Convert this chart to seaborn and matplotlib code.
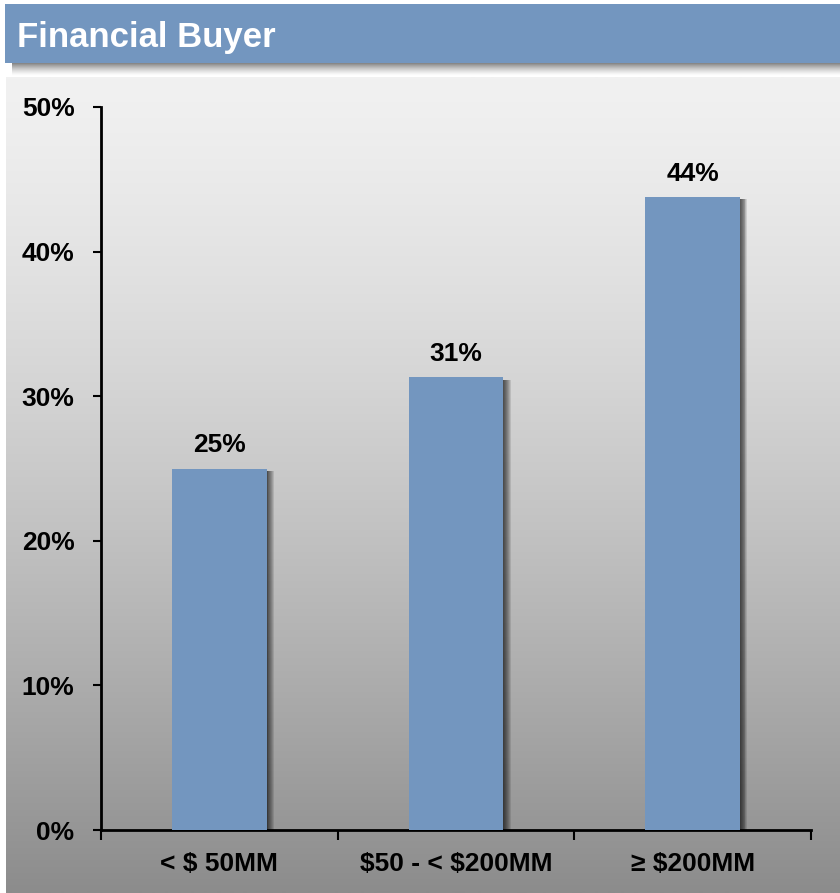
import numpy as np
import matplotlib
matplotlib.use("Agg")
import matplotlib.pyplot as plt
from matplotlib.patches import Rectangle
from matplotlib.transforms import offset_copy
import seaborn as sns

# Chart data
categories = ["< $ 50MM", "$50 - < $200MM", "\u2265 $200MM"]
shares = [25.0, 31.3, 43.8]
y_ticks = [0, 10, 20, 30, 40, 50]
title = "Financial Buyer"

BAR_COLOR = "#7396BF"
W, H = 840, 893

sns.set_theme(style="white")
plt.rcParams["font.family"] = ["Liberation Sans", "DejaVu Sans"]
plt.rcParams["font.weight"] = "bold"
plt.rcParams["text.parse_math"] = False

fig = plt.figure(figsize=(W / 100, H / 100), dpi=100)
fig.patch.set_facecolor("white")

# Background layer in pixel coordinates: header band, its shadow, gradient panel
bg = fig.add_axes([0, 0, 1, 1], zorder=-5)
bg.set_xlim(0, W)
bg.set_ylim(H, 0)
bg.axis("off")

# soft shadow under the header band
sh = np.linspace(0, 1, 40)[:, None]
sh_alpha = (1 - sh) ** 1.4 * 0.6
sh_img = np.zeros((40, 1, 4))
sh_img[..., 3] = sh_alpha
bg.imshow(sh_img, extent=(12, W, 76, 61), aspect="auto", interpolation="bilinear", zorder=1)

bg.add_patch(Rectangle((5, 4), W - 5, 59, facecolor=BAR_COLOR, edgecolor="none", zorder=2))
bg.text(17, 47, title, color="white", fontsize=25, fontweight="bold", va="baseline", ha="left", zorder=3)

# vertical grey gradient panel
t = np.linspace(0, 1, 256)[:, None]
g = (241 - 101 * t ** 1.3) / 255.0
panel = np.dstack([g, g, g])
bg.imshow(panel, extent=(6, W, H, 77), aspect="auto", interpolation="bilinear", zorder=0)

# Main chart axes
left, right = 101, 811
top, bottom = 107, 830
ax = fig.add_axes([left / W, (H - bottom) / H, (right - left) / W, (bottom - top) / H])
ax.set_facecolor("none")

sns.barplot(x=categories, y=shares, color=BAR_COLOR, saturation=1, width=0.4, ax=ax,
            linewidth=0, edgecolor="none", zorder=3)

# blurred drop shadow on the right of each bar
for p in list(ax.patches):
    x0, y0 = p.get_x(), p.get_y()
    w, h = p.get_width(), p.get_height()
    for i in range(1, 9):
        tr = offset_copy(ax.transData, fig=fig, x=i * 0.9, y=-2.5, units="dots")
        ax.add_patch(Rectangle((x0, y0), w, h, transform=tr, facecolor="black",
                               edgecolor="none", alpha=0.11, zorder=2))

ax.bar_label(ax.containers[0], labels=[f"{v:.0f}%" for v in shares], padding=8,
             fontsize=19, fontweight="bold", color="black")

ax.set_xlim(-0.5, len(categories) - 0.5)
ax.set_ylim(0, 50)
ax.set_yticks(y_ticks)
ax.set_yticklabels([f"{v}%" for v in y_ticks])
ax.set_xticks(range(len(categories)))
ax.set_xticklabels(categories)
ax.set_xticks(np.arange(-0.5, len(categories), 1.0), minor=True)

for side in ["top", "right"]:
    ax.spines[side].set_visible(False)
for side in ["left", "bottom"]:
    ax.spines[side].set_visible(True)
    ax.spines[side].set_color("black")
    ax.spines[side].set_linewidth(2)

ax.tick_params(axis="y", which="major", direction="out", length=6, width=1.5, color="black",
               left=True, pad=13, labelsize=19, labelcolor="black")
ax.tick_params(axis="x", which="major", length=0, pad=16, labelsize=19, labelcolor="black")
ax.tick_params(axis="x", which="minor", direction="out", length=7, width=1.5, color="black",
               bottom=True)
for lab in ax.get_xticklabels() + ax.get_yticklabels():
    lab.set_fontweight("bold")
ax.set_xlabel("")
ax.set_ylabel("")
ax.grid(False)

fig.savefig("out.png", dpi=100, facecolor="white")
